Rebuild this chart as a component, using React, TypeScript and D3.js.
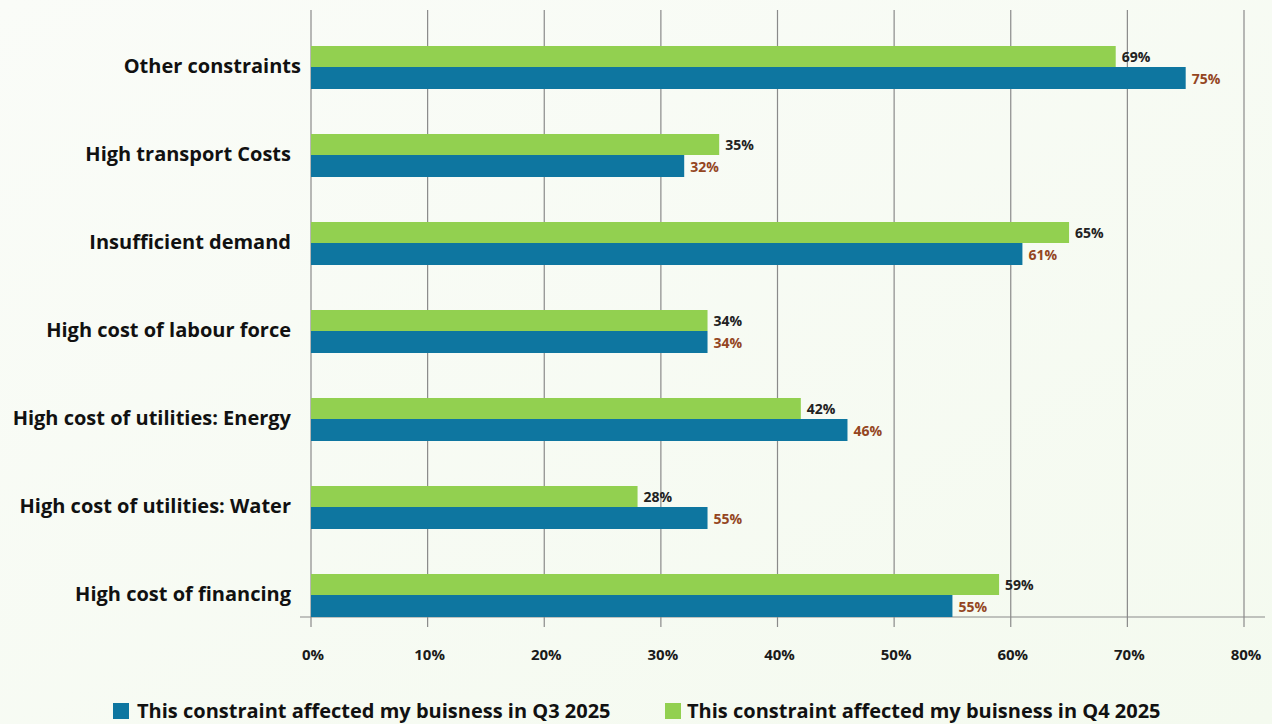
import React from "react";
import * as d3 from "d3";

const categories = [
  "Other constraints",
  "High transport Costs",
  "Insufficient demand",
  "High cost of labour force",
  "High cost of utilities: Energy",
  "High cost of utilities: Water",
  "High cost of financing",
];
const q3Values = [75, 32, 61, 34, 46, 34, 55];
const q3Labels = ["75%", "32%", "61%", "34%", "46%", "55%", "55%"];
const q4Values = [69, 35, 65, 34, 42, 28, 59];
const q4Labels = ["69%", "35%", "65%", "34%", "42%", "28%", "59%"];
const xTicks = [0, 10, 20, 30, 40, 50, 60, 70, 80];
const seriesNames = [
  "This constraint affected my buisness in Q3 2025",
  "This constraint affected my buisness in Q4 2025",
];

const W = 1272;
const H = 724;
const FONT = "'Open Sans', 'Noto Sans', sans-serif";
const BLUE = "#0e76a0";
const GREEN = "#92d050";

export default function App() {
  const x = d3.scaleLinear().domain([0, 80]).range([311, 1244]);
  const y = d3.scaleBand().domain(categories).range([23, 639]).padding(0);
  const axisY = 617;
  const top = 10;
  const half = 21;

  return (
    <svg width={W} height={H} style={{ position: "absolute", left: 0, top: 0 }}>
      <defs>
        <linearGradient id="bg" x1="0" y1="0" x2="1" y2="1">
          <stop offset="0" stopColor="#fafcf8" />
          <stop offset="1" stopColor="#f4faef" />
        </linearGradient>
      </defs>
      <rect x={0} y={0} width={W} height={H} fill="url(#bg)" />
      {xTicks.map((t) => (
        <line key={"g" + t} x1={x(t)} x2={x(t)} y1={top} y2={axisY + 10} stroke="#8a8a8a" strokeWidth={1.2} />
      ))}
      <line x1={300} x2={1265} y1={axisY} y2={axisY} stroke="#8a8a8a" strokeWidth={1.2} />
      {xTicks.map((t) => (
        <text key={"t" + t} x={x(t) + 2} y={660} textAnchor="middle" fontFamily={FONT} fontWeight={700} fontSize={15} fill="#1a1a1a">
          {t + "%"}
        </text>
      ))}
      {categories.map((c, i) => {
        const cy = (y(c) as number) + y.bandwidth() / 2;
        const labelX = i === 0 ? 301 : 291;
        return (
          <g key={c}>
            <rect x={x(0)} y={cy - half} width={x(q4Values[i]) - x(0)} height={half} fill={GREEN} />
            <rect x={x(0)} y={cy} width={x(q3Values[i]) - x(0)} height={half + 1} fill={BLUE} />
            <text x={x(q4Values[i]) + 6} y={cy - 10} dy="0.35em" fontFamily={FONT} fontWeight={700} fontSize={14} fill="#222">
              {q4Labels[i]}
            </text>
            <text x={x(q3Values[i]) + 6} y={cy + 12} dy="0.35em" fontFamily={FONT} fontWeight={700} fontSize={14} fill="#94461f">
              {q3Labels[i]}
            </text>
            <text x={labelX} y={cy - 1} dy="0.35em" textAnchor="end" fontFamily={FONT} fontWeight={700} fontSize={20} fill="#111">
              {c}
            </text>
          </g>
        );
      })}
      <rect x={113} y={703} width={16} height={16} fill={BLUE} />
      <text x={137} y={718} fontFamily={FONT} fontWeight={700} fontSize={20} fill="#111">{seriesNames[0]}</text>
      <rect x={665} y={703} width={16} height={16} fill={GREEN} />
      <text x={687} y={718} fontFamily={FONT} fontWeight={700} fontSize={20} fill="#111">{seriesNames[1]}</text>
    </svg>
  );
}
